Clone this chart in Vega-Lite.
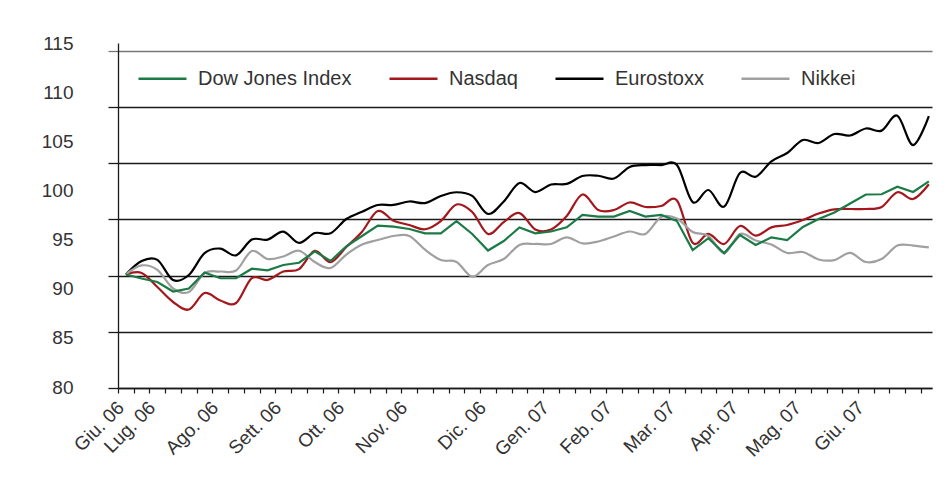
{
  "$schema": "https://vega.github.io/schema/vega-lite/v6.json",
  "width": 814,
  "height": 345,
  "autosize": "none",
  "padding": {"left": 118, "top": 43, "right": 17, "bottom": 92},
  "background": "white",
  "config": {
    "font": "Liberation Sans",
    "view": {"stroke": null},
    "axis": {"labelFont": "Liberation Sans", "labelFontSize": 19, "labelColor": "#333333"}
  },
  "data": {
    "values": [
      {"week": 1, "Dow Jones Index": 95.1, "Nasdaq": 95.1, "Eurostoxx": 95.1, "Nikkei": 95.1},
      {"week": 2, "Dow Jones Index": 94.74, "Nasdaq": 95.23, "Eurostoxx": 96.3, "Nikkei": 95.9},
      {"week": 3, "Dow Jones Index": 94.43, "Nasdaq": 93.98, "Eurostoxx": 96.4, "Nikkei": 95.5},
      {"week": 4, "Dow Jones Index": 93.58, "Nasdaq": 92.65, "Eurostoxx": 94.6, "Nikkei": 93.85},
      {"week": 5, "Dow Jones Index": 93.85, "Nasdaq": 91.98, "Eurostoxx": 95.05, "Nikkei": 93.54},
      {"week": 6, "Dow Jones Index": 95.27, "Nasdaq": 93.45, "Eurostoxx": 97.0, "Nikkei": 95.23},
      {"week": 7, "Dow Jones Index": 94.76, "Nasdaq": 92.78, "Eurostoxx": 97.4, "Nikkei": 95.36},
      {"week": 8, "Dow Jones Index": 94.76, "Nasdaq": 92.56, "Eurostoxx": 96.8, "Nikkei": 95.45},
      {"week": 9, "Dow Jones Index": 95.61, "Nasdaq": 94.78, "Eurostoxx": 98.2, "Nikkei": 97.19},
      {"week": 10, "Dow Jones Index": 95.47, "Nasdaq": 94.61, "Eurostoxx": 98.2, "Nikkei": 96.47},
      {"week": 11, "Dow Jones Index": 95.94, "Nasdaq": 95.36, "Eurostoxx": 98.9, "Nikkei": 96.7},
      {"week": 12, "Dow Jones Index": 96.14, "Nasdaq": 95.58, "Eurostoxx": 97.9, "Nikkei": 97.21},
      {"week": 13, "Dow Jones Index": 97.15, "Nasdaq": 97.2, "Eurostoxx": 98.78, "Nikkei": 96.2},
      {"week": 14, "Dow Jones Index": 96.3, "Nasdaq": 96.2, "Eurostoxx": 98.76, "Nikkei": 95.67},
      {"week": 15, "Dow Jones Index": 97.59, "Nasdaq": 97.54, "Eurostoxx": 100.03, "Nikkei": 96.87},
      {"week": 16, "Dow Jones Index": 98.52, "Nasdaq": 98.9, "Eurostoxx": 100.68, "Nikkei": 97.76},
      {"week": 17, "Dow Jones Index": 99.44, "Nasdaq": 100.74, "Eurostoxx": 101.28, "Nikkei": 98.16},
      {"week": 18, "Dow Jones Index": 99.35, "Nasdaq": 99.88, "Eurostoxx": 101.28, "Nikkei": 98.52},
      {"week": 19, "Dow Jones Index": 99.14, "Nasdaq": 99.5, "Eurostoxx": 101.59, "Nikkei": 98.52},
      {"week": 20, "Dow Jones Index": 98.76, "Nasdaq": 99.12, "Eurostoxx": 101.45, "Nikkei": 97.3},
      {"week": 21, "Dow Jones Index": 98.76, "Nasdaq": 99.85, "Eurostoxx": 102.08, "Nikkei": 96.38},
      {"week": 22, "Dow Jones Index": 99.85, "Nasdaq": 101.32, "Eurostoxx": 102.41, "Nikkei": 96.21},
      {"week": 23, "Dow Jones Index": 98.7, "Nasdaq": 100.65, "Eurostoxx": 102.08, "Nikkei": 94.9},
      {"week": 24, "Dow Jones Index": 97.23, "Nasdaq": 98.7, "Eurostoxx": 100.48, "Nikkei": 95.94},
      {"week": 25, "Dow Jones Index": 98.07, "Nasdaq": 99.76, "Eurostoxx": 101.59, "Nikkei": 96.47},
      {"week": 26, "Dow Jones Index": 99.28, "Nasdaq": 100.56, "Eurostoxx": 103.23, "Nikkei": 97.72},
      {"week": 27, "Dow Jones Index": 98.76, "Nasdaq": 99.1, "Eurostoxx": 102.43, "Nikkei": 97.81},
      {"week": 28, "Dow Jones Index": 98.92, "Nasdaq": 99.1, "Eurostoxx": 103.1, "Nikkei": 97.81},
      {"week": 29, "Dow Jones Index": 99.29, "Nasdaq": 100.3, "Eurostoxx": 103.15, "Nikkei": 98.4},
      {"week": 30, "Dow Jones Index": 100.39, "Nasdaq": 102.21, "Eurostoxx": 103.86, "Nikkei": 97.86},
      {"week": 31, "Dow Jones Index": 100.24, "Nasdaq": 100.83, "Eurostoxx": 103.88, "Nikkei": 98.03},
      {"week": 32, "Dow Jones Index": 100.24, "Nasdaq": 100.83, "Eurostoxx": 103.63, "Nikkei": 98.48},
      {"week": 33, "Dow Jones Index": 100.74, "Nasdaq": 101.5, "Eurostoxx": 104.66, "Nikkei": 98.92},
      {"week": 34, "Dow Jones Index": 100.25, "Nasdaq": 101.1, "Eurostoxx": 104.83, "Nikkei": 98.7},
      {"week": 35, "Dow Jones Index": 100.39, "Nasdaq": 101.19, "Eurostoxx": 104.83, "Nikkei": 100.21},
      {"week": 36, "Dow Jones Index": 99.85, "Nasdaq": 101.68, "Eurostoxx": 104.83, "Nikkei": 100.08},
      {"week": 37, "Dow Jones Index": 97.27, "Nasdaq": 97.92, "Eurostoxx": 101.54, "Nikkei": 98.88},
      {"week": 38, "Dow Jones Index": 98.32, "Nasdaq": 98.7, "Eurostoxx": 102.61, "Nikkei": 98.52},
      {"week": 39, "Dow Jones Index": 96.98, "Nasdaq": 97.81, "Eurostoxx": 101.13, "Nikkei": 97.01},
      {"week": 40, "Dow Jones Index": 98.61, "Nasdaq": 99.41, "Eurostoxx": 104.12, "Nikkei": 98.7},
      {"week": 41, "Dow Jones Index": 97.72, "Nasdaq": 98.55, "Eurostoxx": 103.79, "Nikkei": 98.12},
      {"week": 42, "Dow Jones Index": 98.4, "Nasdaq": 99.29, "Eurostoxx": 105.15, "Nikkei": 97.76},
      {"week": 43, "Dow Jones Index": 98.16, "Nasdaq": 99.5, "Eurostoxx": 105.9, "Nikkei": 97.01},
      {"week": 44, "Dow Jones Index": 99.32, "Nasdaq": 99.94, "Eurostoxx": 107.06, "Nikkei": 97.1},
      {"week": 45, "Dow Jones Index": 100.03, "Nasdaq": 100.52, "Eurostoxx": 106.79, "Nikkei": 96.43},
      {"week": 46, "Dow Jones Index": 100.61, "Nasdaq": 100.89, "Eurostoxx": 107.59, "Nikkei": 96.38},
      {"week": 47, "Dow Jones Index": 101.41, "Nasdaq": 100.92, "Eurostoxx": 107.46, "Nikkei": 97.01},
      {"week": 48, "Dow Jones Index": 102.21, "Nasdaq": 100.92, "Eurostoxx": 108.08, "Nikkei": 96.21},
      {"week": 49, "Dow Jones Index": 102.23, "Nasdaq": 101.1, "Eurostoxx": 107.89, "Nikkei": 96.47},
      {"week": 50, "Dow Jones Index": 102.9, "Nasdaq": 102.41, "Eurostoxx": 109.22, "Nikkei": 97.67},
      {"week": 51, "Dow Jones Index": 102.43, "Nasdaq": 101.81, "Eurostoxx": 106.61, "Nikkei": 97.67},
      {"week": 52, "Dow Jones Index": 103.37, "Nasdaq": 103.12, "Eurostoxx": 109.19, "Nikkei": 97.5}
    ]
  },
  "transform": [
    {"fold": ["Dow Jones Index", "Nasdaq", "Eurostoxx", "Nikkei"], "as": ["series", "value"]}
  ],
  "layer": [
    {
      "mark": {"type": "line", "opacity": 0},
      "encoding": {
        "x": {
          "field": "week",
          "type": "quantitative",
          "scale": {"domain": [0.5, 52.2], "nice": false, "zero": false},
          "axis": {
            "title": null,
            "grid": false,
            "tickCount": 100,
            "values": [0.5, 1.5, 2.5, 3.5, 4.5, 5.5, 6.5, 7.5, 8.5, 9.5, 10.5, 11.5, 12.5, 13.5, 14.5, 15.5, 16.5, 17.5, 18.5, 19.5, 20.5, 21.5, 22.5, 23.5, 24.5, 25.5, 26.5, 27.5, 28.5, 29.5, 30.5, 31.5, 32.5, 33.5, 34.5, 35.5, 36.5, 37.5, 38.5, 39.5, 40.5, 41.5, 42.5, 43.5, 44.5, 45.5, 46.5, 47.5, 48.5, 49.5, 50.5, 51.5],
            "labelExpr": "indexof([0.5,2.5,6.5,10.5,14.5,18.5,23.5,27.5,31.5,35.5,39.5,43.5,47.5], datum.value) < 0 ? '' : ['Giu. 06','Lug. 06','Ago. 06','Sett. 06','Ott. 06','Nov. 06','Dic. 06','Gen. 07','Feb. 07','Mar. 07','Apr. 07','Mag. 07','Giu. 07'][indexof([0.5,2.5,6.5,10.5,14.5,18.5,23.5,27.5,31.5,35.5,39.5,43.5,47.5], datum.value)]",
            "labelAngle": -45,
            "labelOverlap": false,
            "labelFlush": false,
            "labelPadding": 5,
            "labelOffset": -4,
            "tickSize": 5,
            "tickColor": "#1a1a1a",
            "tickWidth": 1.2,
            "domainColor": "#1a1a1a",
            "domainWidth": 1.3
          }
        },
        "y": {
          "field": "value",
          "type": "quantitative",
          "scale": {"domain": [79.9, 115], "nice": false, "zero": false},
          "axis": {
            "orient": "left",
            "title": null,
            "values": [80, 85, 90, 95, 100, 105, 110, 115],
            "grid": false,
            "domain": false,
            "ticks": false,
            "tickSize": 0,
            "labelPadding": 45
          }
        },
        "detail": {"field": "series", "type": "nominal"}
      }
    },
    {
      "encoding": {
        "x": {"field": "week", "type": "quantitative"},
        "y": {
          "field": "value",
          "type": "quantitative",
          "scale": {"domain": [85, 115.685], "nice": false, "zero": false},
          "axis": {
            "orient": "left",
            "title": null,
            "values": [85, 90, 95, 100, 105, 110, 115],
            "labels": false,
            "grid": true,
            "gridColor": {"condition": {"test": "datum.value === 115", "value": "#777777"}, "value": "#1a1a1a"},
            "gridWidth": 1.3,
            "gridOpacity": 1,
            "ticks": true,
            "tickSize": 10,
            "tickColor": {"condition": {"test": "datum.value === 115", "value": "#777777"}, "value": "#1a1a1a"},
            "tickWidth": 1.3,
            "domain": true,
            "domainColor": "#1a1a1a",
            "domainWidth": 1.3
          }
        },
        "color": {
          "field": "series",
          "type": "nominal",
          "scale": {
            "domain": ["Dow Jones Index", "Nasdaq", "Eurostoxx", "Nikkei"],
            "range": ["#1b7a45", "#a3171d", "#000000", "#a0a0a0"]
          },
          "legend": {
            "title": null,
            "orient": "none",
            "legendX": 19,
            "legendY": 10,
            "direction": "horizontal",
            "columns": 4,
            "symbolType": "stroke",
            "symbolSize": 2304,
            "symbolStrokeWidth": 2.5,
            "labelFont": "Liberation Sans",
            "labelFontSize": 20,
            "labelColor": "#333333",
            "labelOffset": 10,
            "columnPadding": 32,
            "padding": 0
          }
        }
      },
      "layer": [
        {
          "transform": [{"filter": "datum.series !== 'Dow Jones Index'"}],
          "mark": {"type": "line", "interpolate": "cardinal", "strokeWidth": 2.2}
        },
        {
          "transform": [{"filter": "datum.series === 'Dow Jones Index'"}],
          "mark": {"type": "line", "interpolate": "linear", "strokeWidth": 2.2}
        }
      ]
    }
  ],
  "resolve": {"scale": {"y": "independent"}}
}
